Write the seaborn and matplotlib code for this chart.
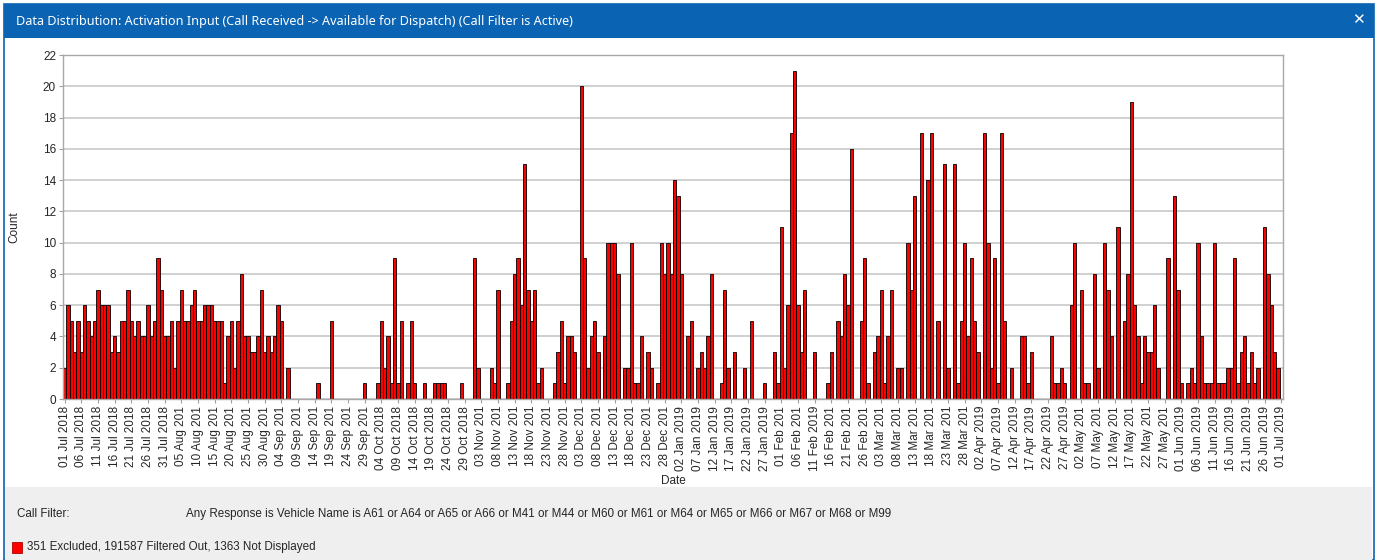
import pandas as pd
import matplotlib.pyplot as plt
import seaborn as sns
from matplotlib.patches import Rectangle

# daily counts, 01 Jul 2018 -> 01 Jul 2019
counts = [
    2, 6, 5, 3, 5, 3, 6, 5, 4, 5, 7, 6, 6, 6, 3, 4, 3, 5, 5, 7,
    5, 4, 5, 4, 4, 6, 4, 5, 9, 7, 4, 4, 5, 2, 5, 7, 5, 5, 6, 7,
    5, 5, 6, 6, 6, 5, 5, 5, 1, 4, 5, 2, 5, 8, 4, 4, 3, 3, 4, 7,
    3, 4, 3, 4, 6, 5, 0, 2, 0, 0, 0, 0, 0, 0, 0, 0, 1, 0, 0, 0,
    5, 0, 0, 0, 0, 0, 0, 0, 0, 0, 1, 0, 0, 0, 1, 5, 2, 4, 1, 9,
    1, 5, 0, 1, 5, 1, 0, 0, 1, 0, 0, 1, 1, 1, 1, 0, 0, 0, 0, 1,
    0, 0, 0, 9, 2, 0, 0, 0, 2, 1, 7, 0, 0, 1, 5, 8, 9, 6, 15, 7,
    5, 7, 1, 2, 0, 0, 0, 1, 3, 5, 1, 4, 4, 3, 0, 20, 9, 2, 4, 5,
    3, 0, 4, 10, 10, 10, 8, 0, 2, 2, 10, 1, 1, 4, 0, 3, 2, 0, 1, 10,
    8, 10, 8, 14, 13, 8, 0, 4, 5, 0, 2, 3, 2, 4, 8, 0, 0, 1, 7, 2,
    0, 3, 0, 0, 2, 0, 5, 0, 0, 0, 1, 0, 0, 3, 1, 11, 2, 6, 17, 21,
    6, 3, 7, 0, 0, 3, 0, 0, 0, 1, 3, 0, 5, 4, 8, 6, 16, 0, 0, 5,
    9, 1, 0, 3, 4, 7, 1, 4, 7, 0, 2, 2, 0, 10, 7, 13, 0, 17, 0, 14,
    17, 0, 5, 0, 15, 2, 0, 15, 1, 5, 10, 4, 9, 5, 3, 0, 17, 10, 2, 9,
    1, 17, 5, 0, 2, 0, 0, 4, 4, 1, 3, 0, 0, 0, 0, 0, 4, 1, 1, 2,
    1, 0, 6, 10, 0, 7, 1, 1, 0, 8, 2, 0, 10, 7, 4, 0, 11, 0, 5, 8,
    19, 6, 4, 1, 4, 3, 3, 6, 2, 0, 0, 9, 0, 13, 7, 1, 0, 1, 2, 1,
    10, 4, 1, 1, 1, 10, 1, 1, 1, 2, 2, 9, 1, 3, 4, 1, 3, 1, 2, 0,
    11, 8, 6, 3, 2, 0,
]
start_date = "2018-07-01"
y_ticks = list(range(0, 23, 2))
# long month names get clipped by the chart control
clipped_months = ["Aug", "Sep", "Nov", "Dec", "Feb", "Mar", "May"]

title_text = "Data Distribution: Activation Input (Call Received -> Available for Dispatch) (Call Filter is Active)"
filter_text = ("Any Response is Vehicle Name is A61 or A64 or A65 or A66 or M41 or M44 or M60 "
               "or M61 or M64 or M65 or M66 or M67 or M68 or M99")
status_text = "351 Excluded, 191587 Filtered Out, 1363 Not Displayed"

dates = pd.date_range(start_date, periods=len(counts), freq="D")
df = pd.DataFrame({"day": range(len(counts)), "count": counts})

tick_pos = list(range(0, len(counts), 5))
tick_labels = []
for p in tick_pos:
    lab = dates[p].strftime("%d %b %Y")
    if dates[p].strftime("%b") in clipped_months and not lab.startswith("11"):
        lab = lab[:-1]
    tick_labels.append(lab)

sns.set_style("white")
plt.rcParams["font.family"] = ["Liberation Sans", "DejaVu Sans"]

W, H = 1378, 560
fig = plt.figure(figsize=(W / 100, H / 100), dpi=100)

def px(x0, y0, x1, y1):
    return [x0 / W, 1 - y1 / H, (x1 - x0) / W, (y1 - y0) / H]

# window chrome (kept behind the axes)
blue = "#0B63B3"
fig.patches.append(Rectangle((4 / W, 0), 1370 / W, 1 - 4 / H, transform=fig.transFigure,
                             facecolor="white", edgecolor=blue, linewidth=1.2, zorder=-10))
fig.patches.append(Rectangle((4 / W, 1 - 38 / H), 1370 / W, 34 / H, transform=fig.transFigure,
                             facecolor=blue, edgecolor="none", zorder=-9))
fig.patches.append(Rectangle((5 / W, 0), 1367 / W, 73 / H, transform=fig.transFigure,
                             facecolor="#EFEFEF", edgecolor="none", zorder=-9))
fig.text(16 / W, 1 - 21 / H, title_text, color="white", fontsize=9.1, va="center",
         family=["Noto Sans", "DejaVu Sans"])
fig.text(1358 / W, 1 - 20 / H, "\u2715", color="white", fontsize=11, va="center", ha="center",
         family="DejaVu Sans")
fig.text(17 / W, 1 - 514 / H, "Call Filter:", fontsize=8.4, va="center")
fig.text(186 / W, 1 - 514 / H, filter_text, fontsize=8.4, va="center")
fig.patches.append(Rectangle((12 / W, 1 - 553 / H), 10 / W, 11 / H, transform=fig.transFigure,
                             facecolor="#FF0000", edgecolor="#B00000", linewidth=0.6))
fig.text(27 / W, 1 - 547 / H, status_text, fontsize=8.4, va="center")

# chart
ax = fig.add_axes(px(63, 55, 1283, 399))
sns.barplot(data=df, x="day", y="count", color="#FF0000", edgecolor="black",
            linewidth=0.6, width=1.0, saturation=1, ax=ax)
for bar in ax.patches:
    if bar.get_height() == 0:
        bar.set_visible(False)

ax.set_xlim(-0.5, len(counts) - 0.5)
ax.set_ylim(0, 22)
ax.set_yticks(y_ticks)
ax.set_yticklabels([str(v) for v in y_ticks], fontsize=8.5)
ax.set_xticks(tick_pos)
ax.set_xticklabels(tick_labels, rotation=90, fontsize=8.5)
ax.tick_params(axis="both", length=3, color="#A0A0A0", width=0.8, pad=2, bottom=True, left=True)
ax.yaxis.grid(True, color="#C8C8C8", linewidth=1.2)
ax.set_axisbelow(True)
for s in ax.spines.values():
    s.set_color("#A8A8A8")
    s.set_linewidth(1)

ax.set_xlabel("Date", fontsize=8.5)
ax.set_ylabel("Count", fontsize=8.5)
ax.xaxis.set_label_coords(0.5, -0.222)
ax.yaxis.set_label_coords(-0.035, 0.5)

fig.savefig("out.png", dpi=100)
